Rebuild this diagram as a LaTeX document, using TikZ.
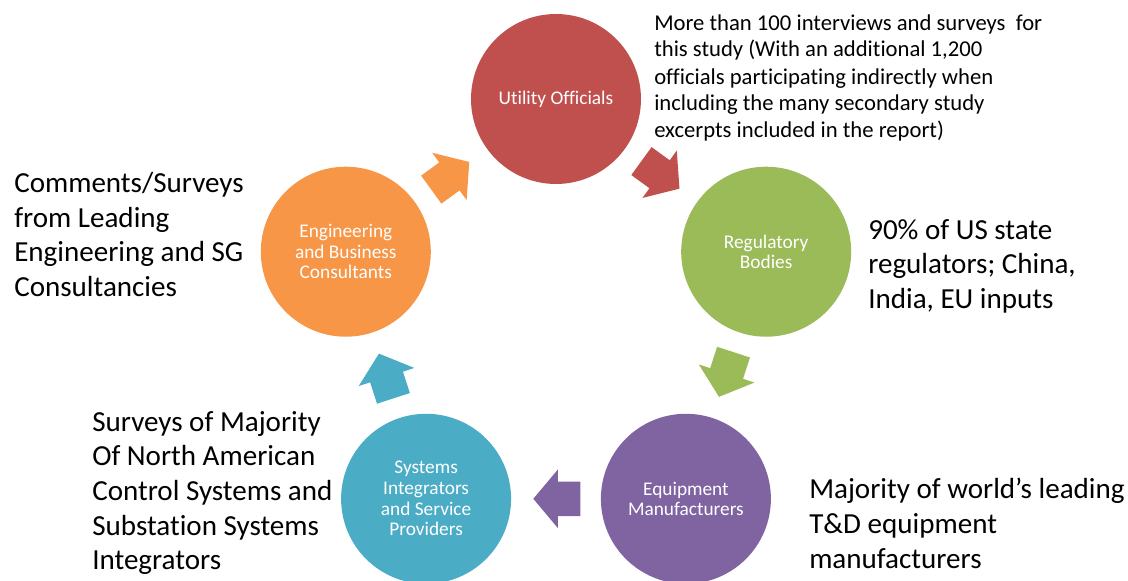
\documentclass[tikz,border=0pt]{standalone}
\usepackage{fontspec}
\setmainfont{Carlito}[Ligatures=NoCommon]
\usetikzlibrary{shapes.arrows}
\definecolor{cutil}{HTML}{C0504D}
\definecolor{creg}{HTML}{9BBB59}
\definecolor{cequip}{HTML}{8064A2}
\definecolor{csys}{HTML}{4BACC6}
\definecolor{ceng}{HTML}{F79646}
\tikzset{
  cyc/.style={circle, minimum size=127.5pt, inner sep=0pt, text=white, align=center,
              font=\fontsize{14.5}{15.5}\selectfont},
  blk/.style={single arrow, draw=none, inner xsep=0pt, inner ysep=12.75pt, minimum height=35.25pt,
              single arrow head extend=9pt, single arrow tip angle=100, sloped, allow upside down,
              pos=0.41},
  note/.style={anchor=north west, align=left, inner sep=0pt, font=\fontsize{21.8}{26}\selectfont},
  smallnote/.style={note, font=\fontsize{17}{20.25}\selectfont}
}

\begin{document}
\begin{tikzpicture}[x=0.75pt, y=0.75pt]
\useasboundingbox (-556,-261) rectangle (572,320);
% the five groups round the cycle
\node[cyc, fill=cutil] (util) at (90:221) {Utility Officials};
\node[cyc, fill=creg] (reg) at (18:221) {Regulatory\\Bodies};
\node[cyc, fill=cequip] (equip) at (-54:221) {Equipment\\Manufacturers};
\node[cyc, fill=csys] (sys) at (-126:221) {Systems\\Integrators\\and Service\\Providers};
\node[cyc, fill=ceng] (eng) at (162:221) {Engineering\\and Business\\Consultants};
% block arrows, clockwise
\path (util) -- node[blk, fill=cutil] (a1) {} (reg);
\path (reg) -- node[blk, fill=creg] (a2) {} (equip);
\path (equip) -- node[blk, fill=cequip] (a3) {} (sys);
\path (sys) -- node[blk, fill=csys] (a4) {} (eng);
\path (eng) -- node[blk, fill=ceng] (a5) {} (util);
% notes
\node[smallnote] (nutil) at (98,306) {More than 100 interviews and surveys~ for\\this study (With an additional 1,200\\officials participating indirectly when\\including the many secondary study\\excerpts included in the report)};
\node[note] (nreg) at (312,101) {90\% of US state\\regulators; China,\\India, EU inputs};
\node[note] (nequip) at (253,-158) {Majority of world’s leading\\T\&D equipment\\manufacturers};
\node[note] (nsys) at (-464,-91) {Surveys of Majority\\Of North American\\Control Systems and\\Substation Systems\\Integrators};
\node[note] (neng) at (-542,148) {Comments/Surveys\\from Leading\\Engineering and SG\\Consultancies};
\end{tikzpicture}
\end{document}
